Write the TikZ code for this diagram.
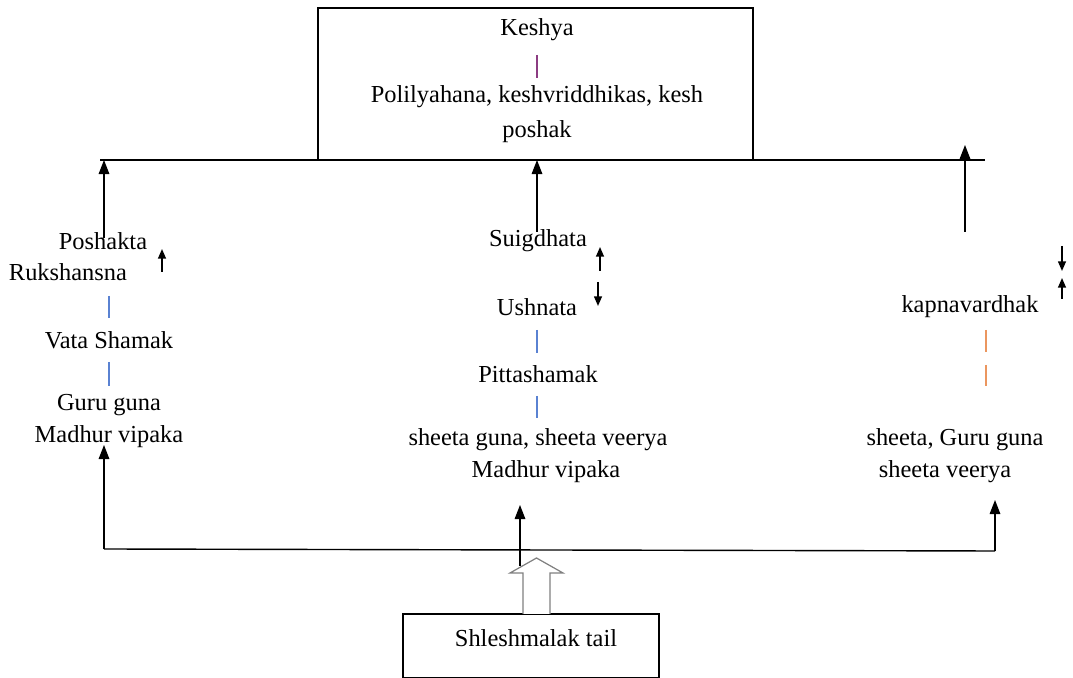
\documentclass[tikz,border=0pt]{standalone}
\usepackage{fontspec}
\setmainfont{Liberation Serif}
\usetikzlibrary{arrows.meta}

\definecolor{barpurple}{RGB}{140,60,130}
\definecolor{barblue}{RGB}{90,130,210}
\definecolor{barorange}{RGB}{235,150,95}

\begin{document}
\begin{tikzpicture}[x=0.02cm,y=-0.02cm,line width=0.8pt,
        big/.style={-{Triangle[length=8pt,width=6pt]}},
        small/.style={-{Triangle[length=5.5pt,width=4.5pt]},line width=0.9pt},
        main node/.style={font=\fontsize{13.9}{16}\selectfont,inner sep=0pt},
        bar/.style={line width=0.6pt}]
        \useasboundingbox (0,0) rectangle (1073,678);

        % Define vertices
        \node[draw,minimum width=8.7cm,minimum height=3.04cm] (top) at (535.5,84) {};
        \node[main node] (keshya) at (537,30) {Keshya};
        \node[main node] (poli) at (537,97) {Polilyahana, keshvriddhikas, kesh};
        \node[main node] (poshak) at (537,132) {poshak};

        \node[main node] (poshakta) at (103,241) {Poshakta};
        \node[main node] (ruksh) at (68,272) {Rukshansna};
        \node[main node] (vata) at (109,340) {Vata Shamak};
        \node[main node] (guru) at (109,405) {Guru guna};
        \node[main node] (madhurL) at (109,437) {Madhur vipaka};

        \node[main node] (suig) at (538,241) {Suigdhata};
        \node[main node] (ushna) at (537,307) {Ushnata};
        \node[main node] (pitta) at (538,374) {Pittashamak};
        \node[main node] (sheetaM) at (538,440) {sheeta guna, sheeta veerya};
        \node[main node] (madhurM) at (546,472) {Madhur vipaka};

        \node[main node] (kapna) at (970,307) {kapnavardhak};
        \node[main node] (sheetaR) at (955,440) {sheeta, Guru guna};
        \node[main node] (veeryaR) at (945,472) {sheeta veerya};

        \node[draw,minimum width=5.12cm,minimum height=1.28cm,main node] (tail) at (531,646) {};
        \node[main node] (taillbl) at (536,638) {Shleshmalak tail};

        % Define points
        \coordinate (hl) at (100,160);
        \coordinate (hr) at (985,160);
        \coordinate (bl) at (104,549);
        \coordinate (br) at (995,551);

        % Draw edges
        \draw (hl) -- (hr);
        \draw[big] (104,238) -- (104,160);
        \draw[big] (537,232) -- (537,160);
        \draw[big] (965,232) -- (965,145);
        \draw[big] (bl) -- (104,445);
        \draw (bl) -- (br);
        \draw[big] (br) -- (995,500);

        \draw[small] (162,272) -- (162,249);
        \draw[small] (600,271) -- (600,247);
        \draw[small] (598,282) -- (598,306);
        \draw[small] (1062,246) -- (1062,271);
        \draw[small] (1062,299) -- (1062,278);

        % hollow arrow
        \draw[gray,line width=0.7pt,fill=white] (523,614) -- (523,573) -- (510,573) -- (536.5,558)
            -- (563,573) -- (550,573) -- (550,614);
        \draw[big] (520,566) -- (520,505);

        % bars
        \draw[bar,barpurple] (537,55) -- (537,78);
        \draw[bar,barblue] (109,296) -- (109,318);
        \draw[bar,barblue] (109,362) -- (109,386);
        \draw[bar,barblue] (537,330) -- (537,353);
        \draw[bar,barblue] (537,396) -- (537,418);
        \draw[bar,barorange] (986,330) -- (986,352);
        \draw[bar,barorange] (986,365) -- (986,386);

        \end{tikzpicture}
\end{document}
